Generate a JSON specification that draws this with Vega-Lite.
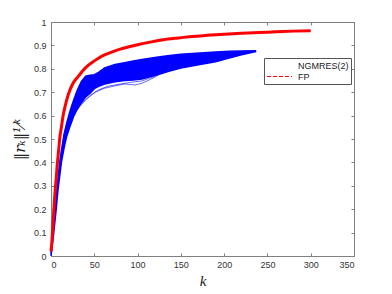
{
  "$schema": "https://vega.github.io/schema/vega-lite/v6.json",
  "width": 303,
  "height": 234,
  "autosize": {"type": "none"},
  "padding": {"left": 51, "top": 22, "right": 38, "bottom": 38},
  "background": "white",
  "config": {
    "view": {"stroke": null},
    "axis": {
      "grid": false,
      "domainColor": "#808080",
      "tickColor": "#808080",
      "domainWidth": 1,
      "tickWidth": 1,
      "tickSize": -3,
      "labelFont": "Liberation Sans",
      "labelFontSize": 9,
      "labelColor": "#333333",
      "titleFont": "Liberation Serif",
      "titleFontStyle": "italic",
      "titleFontWeight": "normal",
      "titleColor": "#222222"
    },
    "legend": {
      "symbolDash": [4, 2],
      "symbolType": "M-2.5,0H2.5"
    }
  },
  "datasets": {
    "red": [
      {"k": 0, "v": 0.02}, {"k": 1, "v": 0.06}, {"k": 2, "v": 0.12}, {"k": 3, "v": 0.18},
      {"k": 4, "v": 0.24}, {"k": 5, "v": 0.29}, {"k": 6, "v": 0.33}, {"k": 7, "v": 0.38},
      {"k": 8, "v": 0.42}, {"k": 9, "v": 0.46}, {"k": 10, "v": 0.5}, {"k": 12, "v": 0.55},
      {"k": 14, "v": 0.6}, {"k": 16, "v": 0.635}, {"k": 20, "v": 0.69}, {"k": 25, "v": 0.735},
      {"k": 31, "v": 0.765}, {"k": 40, "v": 0.805}, {"k": 51, "v": 0.836}, {"k": 60, "v": 0.856},
      {"k": 70, "v": 0.871}, {"k": 80, "v": 0.884}, {"k": 90, "v": 0.894}, {"k": 100, "v": 0.903},
      {"k": 116, "v": 0.915}, {"k": 130, "v": 0.924}, {"k": 145, "v": 0.931}, {"k": 160, "v": 0.937},
      {"k": 180, "v": 0.943}, {"k": 200, "v": 0.948}, {"k": 220, "v": 0.952}, {"k": 240, "v": 0.955},
      {"k": 260, "v": 0.958}, {"k": 280, "v": 0.961}, {"k": 300, "v": 0.963}
    ],
    "blue": [
      {"k": 0, "lo": 0.0, "hi": 0.01}, {"k": 2, "lo": 0.06, "hi": 0.09}, {"k": 4, "lo": 0.13, "hi": 0.17},
      {"k": 6, "lo": 0.2, "hi": 0.25}, {"k": 8, "lo": 0.28, "hi": 0.33}, {"k": 10, "lo": 0.34, "hi": 0.4},
      {"k": 12, "lo": 0.4, "hi": 0.45}, {"k": 15, "lo": 0.46, "hi": 0.52}, {"k": 18, "lo": 0.51, "hi": 0.565},
      {"k": 22, "lo": 0.555, "hi": 0.62}, {"k": 26, "lo": 0.595, "hi": 0.665}, {"k": 30, "lo": 0.625, "hi": 0.705},
      {"k": 35, "lo": 0.655, "hi": 0.745}, {"k": 40, "lo": 0.68, "hi": 0.768}, {"k": 45, "lo": 0.695, "hi": 0.772},
      {"k": 50, "lo": 0.715, "hi": 0.775}, {"k": 55, "lo": 0.725, "hi": 0.785}, {"k": 62, "lo": 0.735, "hi": 0.804},
      {"k": 74, "lo": 0.745, "hi": 0.818}, {"k": 85, "lo": 0.75, "hi": 0.826}, {"k": 95, "lo": 0.752, "hi": 0.833},
      {"k": 105, "lo": 0.756, "hi": 0.84}, {"k": 124, "lo": 0.776, "hi": 0.85}, {"k": 137, "lo": 0.79, "hi": 0.857},
      {"k": 150, "lo": 0.803, "hi": 0.862}, {"k": 172, "lo": 0.818, "hi": 0.868}, {"k": 190, "lo": 0.83, "hi": 0.872},
      {"k": 207, "lo": 0.847, "hi": 0.875}, {"k": 220, "lo": 0.86, "hi": 0.876}, {"k": 237, "lo": 0.874, "hi": 0.877}
    ],
    "thin": [
      {"id": "a", "k": 30, "v": 0.625}, {"id": "a", "k": 40, "v": 0.668}, {"id": "a", "k": 51, "v": 0.7},
      {"id": "a", "k": 62, "v": 0.717}, {"id": "a", "k": 75, "v": 0.728}, {"id": "a", "k": 85, "v": 0.735},
      {"id": "a", "k": 97, "v": 0.731}, {"id": "a", "k": 105, "v": 0.738}, {"id": "a", "k": 115, "v": 0.755},
      {"id": "a", "k": 124, "v": 0.773},
      {"id": "b", "k": 35, "v": 0.65}, {"id": "b", "k": 45, "v": 0.685}, {"id": "b", "k": 55, "v": 0.71},
      {"id": "b", "k": 65, "v": 0.725}, {"id": "b", "k": 80, "v": 0.735}, {"id": "b", "k": 92, "v": 0.742},
      {"id": "b", "k": 105, "v": 0.748}, {"id": "b", "k": 120, "v": 0.768}
    ]
  },
  "layer": [
    {
      "data": {"name": "blue"},
      "mark": {"type": "area", "color": "#0000ff", "opacity": 1},
      "encoding": {
        "x": {"field": "k", "type": "quantitative", "scale": {"domain": [0, 350], "nice": false, "zero": false},
          "axis": {"orient": "bottom", "values": [0, 50, 100, 150, 200, 250, 300, 350], "title": "k", "titleFontSize": 15, "titlePadding": 4, "labelPadding": 7}},
        "y": {"field": "lo", "type": "quantitative", "scale": {"domain": [0, 1], "nice": false},
          "axis": {"orient": "left", "values": [0, 0.1, 0.2, 0.3, 0.4, 0.5, 0.6, 0.7, 0.8, 0.9, 1], "format": "~g", "title": "‖rₖ‖¹⁄ᵏ", "titleFont": "DejaVu Serif", "titleFontSize": 15, "titlePadding": 6, "labelPadding": 8}},
        "y2": {"field": "hi"}
      }
    },
    {
      "data": {"name": "blue"},
      "mark": {"type": "line", "color": "#0000ff", "strokeWidth": 1.5},
      "encoding": {
        "x": {"field": "k", "type": "quantitative",
          "axis": {"orient": "top", "values": [0, 50, 100, 150, 200, 250, 300, 350], "labels": false, "title": null}},
        "y": {"field": "hi", "type": "quantitative",
          "axis": {"orient": "right", "values": [0, 0.1, 0.2, 0.3, 0.4, 0.5, 0.6, 0.7, 0.8, 0.9, 1], "labels": false, "title": null}}
      }
    },
    {
      "data": {"name": "blue"},
      "mark": {"type": "line", "color": "#0000ff", "strokeWidth": 1.5},
      "encoding": {
        "x": {"field": "k", "type": "quantitative", "axis": null},
        "y": {"field": "lo", "type": "quantitative", "axis": null}
      }
    },
    {
      "data": {"name": "thin"},
      "mark": {"type": "line", "color": "#0000ff", "strokeWidth": 0.6},
      "encoding": {
        "x": {"field": "k", "type": "quantitative", "axis": null},
        "y": {"field": "v", "type": "quantitative", "axis": null},
        "detail": {"field": "id"}
      }
    },
    {
      "data": {"name": "red"},
      "mark": {"type": "line", "strokeWidth": 3, "interpolate": "monotone"},
      "encoding": {
        "x": {"field": "k", "type": "quantitative", "axis": null},
        "y": {"field": "v", "type": "quantitative", "axis": null},
        "color": {
          "datum": "FP",
          "scale": {"domain": ["NGMRES(2)", "FP"], "range": ["transparent", "#ff0000"]},
          "legend": {
            "title": null,
            "orient": "none",
            "legendX": 213,
            "legendY": 36,
            "strokeColor": "#555555",
            "padding": 2,
            "symbolSize": 100,
            "symbolStrokeWidth": 1,
            "symbolOffset": 8,
            "labelFont": "Liberation Sans",
            "labelFontSize": 9,
            "labelColor": "#222222",
            "labelOffset": 13,
            "labelLimit": 0,
            "rowPadding": 0
          }
        }
      }
    }
  ],
  "resolve": {"axis": {"x": "independent", "y": "independent"}}
}
